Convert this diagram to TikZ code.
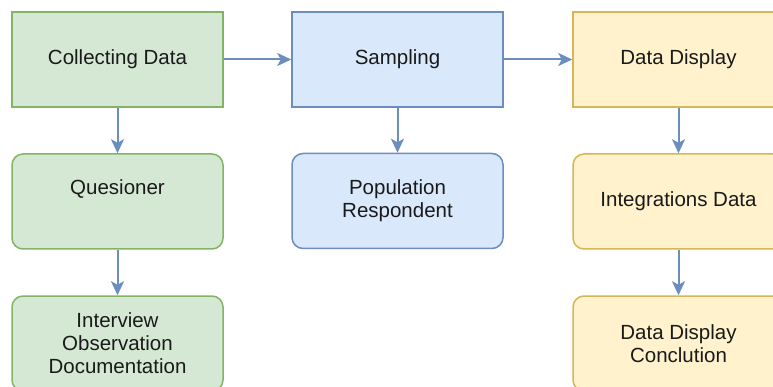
\documentclass[tikz,border=0pt]{standalone}
\usepackage{fontspec}
\setmainfont{Liberation Sans}
\usetikzlibrary{arrows.meta}
\definecolor{gfill}{HTML}{D5E8D4}
\definecolor{gline}{HTML}{82B366}
\definecolor{bfill}{HTML}{DAE8FC}
\definecolor{bline}{HTML}{6C8EBF}
\definecolor{yfill}{HTML}{FFF2CC}
\definecolor{yline}{HTML}{D6B656}
\definecolor{txt}{HTML}{1A1A1A}
\definecolor{arr}{HTML}{6C8EBF}
\begin{document}
\begin{tikzpicture}[x=1pt,y=-1pt,
  box/.style={minimum width=211pt,minimum height=95pt,line width=1.5pt,inner sep=0pt,
    align=center,text=txt,font=\fontsize{20.5}{23}\selectfont},
  sharp/.style={box},
  rbox/.style={box,rounded corners=11pt},
  green/.style={fill=gfill,draw=gline},
  blue/.style={fill=bfill,draw=bline},
  yellow/.style={fill=yfill,draw=yline},
  conn/.style={draw=arr,line width=2pt,-{Stealth[length=14pt,width=13pt,inset=3.5pt]}}]
\useasboundingbox (0,0) rectangle (773,387);
\node[sharp,green] (cd) at (117.5,59.5) {Collecting Data};
\node[sharp,blue] (sa) at (397.5,59.5) {Sampling};
\node[sharp,yellow] (dd) at (678.5,59.5) {Data Display};
\node[rbox,green] (qu) at (117.5,201.5) {};
\node[text=txt,font=\fontsize{20.5}{23}\selectfont] (qut) at (117.5,189) {Quesioner};
\node[rbox,blue] (po) at (397.5,201) {Population\\Respondent};
\node[rbox,yellow] (id) at (678.5,201.5) {Integrations Data};
\node[rbox,green] (io) at (117.5,343.5) {Interview\\Observation\\Documentation};
\node[rbox,yellow] (dc) at (678.5,343.5) {Data Display\\Conclution};
\draw[conn] (cd) -- (sa);
\draw[conn] (sa) -- (dd);
\draw[conn] (cd) -- (qu);
\draw[conn] (qu) -- (io);
\draw[conn] (sa) -- (po);
\draw[conn] (dd) -- (id);
\draw[conn] (id) -- (dc);
\end{tikzpicture}
\end{document}
